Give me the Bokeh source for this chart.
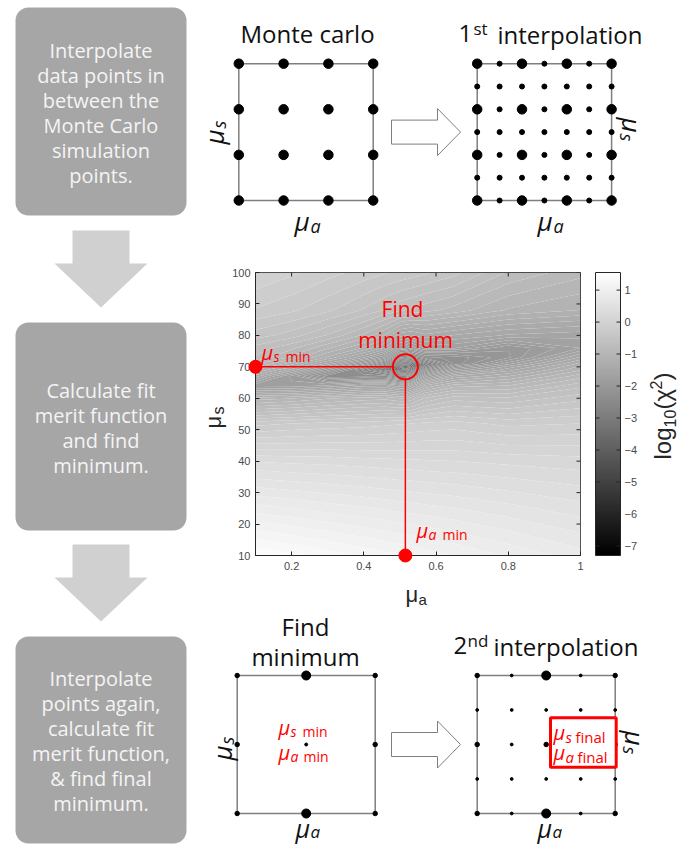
import numpy as np
from bokeh.plotting import figure
from bokeh.layouts import row, column
from bokeh.models import Range1d, LinearColorMapper, FixedTicker, BoxAnnotation
from bokeh.core.properties import value
from bokeh.embed import file_html
from bokeh.resources import INLINE

# ---------------- data ----------------
flow_steps = [
    ["Interpolate", "data points in", "between the", "Monte Carlo", "simulation", "points."],
    ["Calculate fit", "merit function", "and find", "minimum."],
    ["Interpolate", "points again,", "calculate fit", "merit function,", "& find final", "minimum."],
]

mc_nodes = [0, 1, 2, 3]                       # Monte Carlo simulation nodes (grid units)
interp1_nodes = [0, 0.5, 1, 1.5, 2, 2.5, 3]   # after 1st interpolation
zoom_nodes = [0, 1, 2]                        # neighbourhood of the minimum
interp2_nodes = [0, 0.5, 1, 1.5, 2]           # after 2nd interpolation
zoom_mc_points = [(1, 0), (1, 2)]             # Monte Carlo nodes inside the zoomed window

# merit function map log10(chi^2)
mua = [0.1, 0.2, 0.3, 0.4, 0.46, 0.5, 0.515, 0.53, 0.57, 0.65, 0.8, 1.0]
mus = [10, 25, 40, 52, 60, 64, 67, 69, 70, 71, 73, 76, 80, 88, 100]
log_chi2 = [
    [1.45, 1.38, 1.31, 1.23, 1.19, 1.16, 1.15, 1.14, 1.11, 1.05, 0.94, 0.80],
    [0.90, 0.86, 0.81, 0.77, 0.74, 0.72, 0.72, 0.71, 0.69, 0.66, 0.59, 0.50],
    [0.35, 0.33, 0.32, 0.30, 0.29, 0.28, 0.28, 0.28, 0.27, 0.26, 0.23, 0.20],
    [-0.28, -0.24, -0.21, -0.19, -0.17, -0.15, -0.15, -0.14, -0.12, -0.10, -0.17, -0.14],
    [-1.09, -1.04, -0.95, -0.89, -0.87, -0.93, -0.93, -0.90, -0.72, -0.58, -0.62, -0.47],
    [-1.80, -1.80, -1.70, -1.56, -1.55, -1.70, -1.70, -1.57, -1.22, -0.98, -0.93, -0.67],
    [-1.39, -1.86, -2.40, -2.36, -2.39, -2.59, -2.60, -2.47, -1.86, -1.42, -1.23, -0.88],
    [-1.12, -1.48, -1.99, -2.57, -2.95, -3.35, -3.35, -3.23, -2.41, -1.83, -1.47, -1.04],
    [-1.03, -1.31, -1.78, -2.34, -2.81, -3.56, -6.80, -3.55, -2.70, -2.06, -1.59, -1.11],
    [-0.91, -1.19, -1.56, -2.08, -2.52, -3.24, -3.30, -3.36, -2.90, -2.31, -1.76, -1.20],
    [-0.75, -0.96, -1.25, -1.62, -1.95, -2.51, -2.55, -2.64, -2.36, -2.30, -2.05, -1.41],
    [-0.68, -0.81, -1.02, -1.25, -1.45, -1.79, -1.82, -1.91, -1.71, -1.72, -2.02, -1.73],
    [-0.49, -0.59, -0.75, -0.96, -1.15, -1.40, -1.42, -1.45, -1.36, -1.44, -1.55, -1.60],
    [-0.25, -0.32, -0.42, -0.55, -0.65, -0.72, -0.74, -0.76, -0.80, -0.88, -1.05, -1.14],
    [-0.05, -0.12, -0.20, -0.28, -0.33, -0.36, -0.37, -0.38, -0.42, -0.50, -0.75, -0.90],
]
mua_min, mus_min = 0.515, 70
mua_ticks = [0.2, 0.4, 0.6, 0.8, 1.0]
mus_ticks = [10, 20, 30, 40, 50, 60, 70, 80, 90, 100]
cbar_ticks = [-7, -6, -5, -4, -3, -2, -1, 0, 1]
cbar_low, cbar_high = -7.3, 1.55

# ---------------- style ----------------
FONT = "Open Sans"
AXFONT = "Liberation Sans"
BLACK = "#111111"
RED = "#ff0000"
GRIDC = "#7f7f7f"
AXC = "#262626"
TICKC = "#4a4a4a"
RX0, RX1 = 195.0, 678.0   # right column on the page
ROW1, ROW2 = 240, 608     # page y where the right-column panels meet
UP = np.pi / 2


def gray(t):
    v = int(round(255 * min(max(t, 0.0), 1.0)))
    return "#%02x%02x%02x" % (v, v, v)


def put(fig, tx, ty, text, px, py, size, color, style="normal", align="left",
        angle=0.0, font=FONT):
    """py is the visual centre line of the text (page pixels)."""
    r = fig.text(x=[tx(px)], y=[ty(py)], text=[text], text_font=value(font),
                 text_font_size=f"{size}px", text_font_style=style, text_color=color,
                 text_align=align, text_baseline="middle", angle=angle)
    r.level = "overlay"
    return r


def putv(fig, tx, ty, text, cx, y0, size, color, angle, style="normal", font=FONT):
    """rotated text: cx is the centre line, y0 where reading starts."""
    return put(fig, tx, ty, text, cx, y0, size, color, style=style, angle=angle, font=font)


def blank(w, h, xr, yr):
    return figure(width=w, height=h, x_range=Range1d(*xr), y_range=Range1d(*yr),
                  x_axis_type=None, y_axis_type=None, toolbar_location=None,
                  output_backend="svg", min_border=0, outline_line_color=None)


def hollow_arrow(fig, tx, ty, x0, yc):
    xs = [x0, x0 + 46, x0 + 46, x0 + 69, x0 + 46, x0 + 46, x0]
    ys = [yc - 12, yc - 12, yc - 23.5, yc, yc + 23.5, yc + 12, yc + 12]
    fig.patch([tx(x) for x in xs], [ty(y) for y in ys], fill_color="white",
              line_color=GRIDC, line_width=1)


def square(fig, nodes, off=0.0):
    lo, hi = min(nodes) + off, max(nodes) + off
    ylo, yhi = min(nodes), max(nodes)
    fig.line([lo, hi, hi, lo, lo], [ylo, ylo, yhi, yhi, ylo], line_color=GRIDC, line_width=1.5)


# ---------------- left flow column ----------------
left = blank(195, 846, (0, 195), (-846, 0))
boxes = [(7, 215), (322, 530), (636, 843)]
for (bt, bb), lines in zip(boxes, flow_steps):
    left.add_layout(BoxAnnotation(left=15, right=186, top=-bt, bottom=-bb, border_radius=13,
                                  fill_color="#a6a6a6", fill_alpha=1.0, line_color=None,
                                  level="underlay"))
    c = (bt + bb) / 2 + 1
    n = len(lines)
    ys = [-(c + (i - (n - 1) / 2) * 25) for i in range(n)]
    left.text(x=[100.5] * n, y=ys, text=lines, text_font=value(FONT), text_font_size="20px",
              text_color="#f4f4f4", text_align="center", text_baseline="middle")
for yt in (230, 544):
    xs = [72, 129, 129, 147, 100.5, 54, 72]
    ys = [yt, yt, yt + 33, yt + 33, yt + 77, yt + 33, yt + 33]
    left.patch(xs, [-y for y in ys], fill_color="#d0d0d0", line_color=None)

# ---------------- top row: Monte Carlo grid -> 1st interpolation ----------------
SX, SY, X0, Y0 = 44.8, 45.6, 238.3, 200.0
tx = lambda px: (px - X0) / SX
ty = lambda py: (Y0 - py) / SY
top = blank(483, ROW1, (tx(RX0), tx(RX1)), (ty(ROW1), ty(0)))
OFF1 = tx(476.7)

square(top, mc_nodes)
gx, gy = np.meshgrid(mc_nodes, mc_nodes)
top.scatter(gx.ravel(), gy.ravel(), size=9.5, color="black")

square(top, interp1_nodes, OFF1)
ix, iy = np.meshgrid(interp1_nodes, interp1_nodes)
ix, iy = ix.ravel(), iy.ravel()
big = np.array([(a in mc_nodes) and (b in mc_nodes) for a, b in zip(ix, iy)])
top.scatter(ix[big] + OFF1, iy[big], size=9.5, color="black")
top.scatter(ix[~big] + OFF1, iy[~big], size=5, color="black")

hollow_arrow(top, tx, ty, 391, Y0 - 1.5 * SY)

put(top, tx, ty, "Monte carlo", 307, 33, 24, BLACK, align="center")
put(top, tx, ty, "1", 458, 33, 24, BLACK)
put(top, tx, ty, "st", 473, 28, 17, BLACK)
put(top, tx, ty, "interpolation", 497, 34, 24, BLACK)

for xm in (294, 537):
    put(top, tx, ty, "μ", xm, 220, 26, BLACK, style="italic")
    put(top, tx, ty, "a", xm + 16, 225, 18, BLACK, style="italic")
putv(top, tx, ty, "μ", 213, 144, 26, BLACK, UP, style="italic")
putv(top, tx, ty, "s", 218, 128, 18, BLACK, UP, style="italic")
putv(top, tx, ty, "μ", 631, 117, 26, BLACK, -UP, style="italic")
putv(top, tx, ty, "s", 626, 133, 18, BLACK, -UP, style="italic")

# ---------------- middle: merit function map ----------------
FX0, HW, HY0, HH = 255.0, 325.0, 272.0, 283.0
x_lo, x_hi, y_lo, y_hi = mua[0], mua[-1], mus[0], mus[-1]
hx = lambda px: x_lo + (px - FX0) * (x_hi - x_lo) / HW
hy = lambda py: y_hi - (py - HY0) * (y_hi - y_lo) / HH

heat = figure(width=483, height=ROW2 - ROW1, x_range=Range1d(x_lo, x_hi),
              y_range=Range1d(y_lo, y_hi), toolbar_location=None, output_backend="svg",
              min_border_left=int(FX0 - RX0), min_border_right=int(RX1 - FX0 - HW),
              min_border_top=int(HY0 - ROW1), min_border_bottom=int(ROW2 - HY0 - HH))
heat.grid.visible = False
heat.outline_line_color = AXC

levels = np.linspace(cbar_low, cbar_high, 90)
mids = (levels[:-1] + levels[1:]) / 2
fills = [gray((m - cbar_low) / (cbar_high - cbar_low)) for m in mids]
cr = heat.contour(x=np.array(mua), y=np.array(mus), z=np.array(log_chi2), levels=levels,
                  fill_color=fills, line_color=None)
fg = cr.fill_renderer.glyph
fg.line_color = fg.fill_color
fg.line_width = 1.0

for ax in (heat.xaxis[0], heat.yaxis[0]):
    ax.axis_line_color = AXC
    ax.major_tick_line_color = AXC
    ax.major_tick_in = 4
    ax.major_tick_out = 0
    ax.minor_tick_line_color = None
    ax.major_label_text_font = AXFONT
    ax.major_label_text_font_size = "11px"
    ax.major_label_text_color = TICKC
heat.xaxis.ticker = FixedTicker(ticks=mua_ticks)
heat.xaxis.major_label_overrides = {1.0: "1"}
heat.xaxis.major_label_standoff = 6
heat.yaxis.ticker = FixedTicker(ticks=mus_ticks)
heat.yaxis.major_label_standoff = 5

tick_dx = 4 * (x_hi - x_lo) / HW
tick_dy = 4 * (y_hi - y_lo) / HH
heat.segment(x0=mua_ticks, y0=[y_hi] * len(mua_ticks), x1=mua_ticks,
             y1=[y_hi - tick_dy] * len(mua_ticks), line_color=AXC)
heat.segment(x0=[x_hi] * len(mus_ticks), y0=mus_ticks, x1=[x_hi - tick_dx] * len(mus_ticks),
             y1=mus_ticks, line_color=AXC)

# colour bar on its own value range
heat.extra_y_ranges = {"cb": Range1d(cbar_low, cbar_high)}
mapper = LinearColorMapper(palette=[gray(i / 255) for i in range(256)], low=cbar_low, high=cbar_high)
grad = np.linspace(cbar_low, cbar_high, 256).reshape(256, 1)
cb_l, cb_r = hx(595), hx(620)
extras = [
    heat.image(image=[grad], x=cb_l, y=cbar_low, dw=cb_r - cb_l, dh=cbar_high - cbar_low,
               color_mapper=mapper, y_range_name="cb"),
    heat.quad(left=[cb_l], right=[cb_r], bottom=[cbar_low], top=[cbar_high], fill_color=None,
              line_color=AXC, line_width=1, y_range_name="cb"),
    heat.segment(x0=[cb_r] * len(cbar_ticks), y0=cbar_ticks, x1=[hx(616)] * len(cbar_ticks),
                 y1=cbar_ticks, line_color=AXC, y_range_name="cb"),
    heat.segment(x0=[cb_l] * len(cbar_ticks), y0=cbar_ticks, x1=[hx(599)] * len(cbar_ticks),
                 y1=cbar_ticks, line_color=AXC, y_range_name="cb"),
    heat.text(x=[hx(624)] * len(cbar_ticks), y=cbar_ticks,
              text=[("−%d" % abs(t) if t < 0 else str(t)) for t in cbar_ticks],
              text_font=value(AXFONT), text_font_size="11px", text_color=TICKC,
              text_align="left", text_baseline="middle", y_range_name="cb"),
]
for r in extras:
    r.level = "overlay"

# colour bar title log10(chi^2), reading upwards
putv(heat, hx, hy, "log", 662, 459, 24, AXC, UP, font=AXFONT)
putv(heat, hx, hy, "10", 669, 427, 16, AXC, UP, font=AXFONT)
putv(heat, hx, hy, "(χ", 662, 409, 24, AXC, UP, font=AXFONT)
putv(heat, hx, hy, "2", 655, 389, 16, AXC, UP, font=AXFONT)
putv(heat, hx, hy, ")", 662, 380, 24, AXC, UP, font=AXFONT)

# axis labels
put(heat, hx, hy, "μ", 405, 594, 22, AXC, font=AXFONT)
put(heat, hx, hy, "a", 418, 599, 15, AXC, font=AXFONT)
putv(heat, hx, hy, "μ", 213, 428, 22, AXC, UP, font=AXFONT)
putv(heat, hx, hy, "s", 218, 414, 16, AXC, UP, font=AXFONT)

# minimum annotations
rx = 12.5 * (x_hi - x_lo) / HW
ry = 12.5 * (y_hi - y_lo) / HH
heat.line([x_lo, mua_min - rx], [mus_min, mus_min], line_color=RED, line_width=1.5)
heat.line([mua_min, mua_min], [mus_min - ry, y_lo], line_color=RED, line_width=1.5)
heat.scatter([mua_min], [mus_min], marker="circle", size=25, fill_color=None,
             line_color=RED, line_width=2)
dots = heat.scatter([x_lo, mua_min], [mus_min, y_lo], size=13, color=RED)
dots.level = "overlay"

put(heat, hx, hy, "Find", 402, 308, 21, RED, align="center")
put(heat, hx, hy, "minimum", 405, 339, 21, RED, align="center")
put(heat, hx, hy, "μ", 261, 352, 20, RED, style="italic")
put(heat, hx, hy, "s", 273, 356, 14, RED, style="italic")
put(heat, hx, hy, "min", 285, 356, 14, RED)
put(heat, hx, hy, "μ", 416, 530, 20, RED, style="italic")
put(heat, hx, hy, "a", 428, 534, 14, RED, style="italic")
put(heat, hx, hy, "min", 442, 534, 14, RED)

# ---------------- bottom row: zoom on minimum -> 2nd interpolation ----------------
BS, BX0, BY0 = 69.0, 236.7, 813.0
bx = lambda px: (px - BX0) / BS
by = lambda py: (BY0 - py) / BS
bottom = blank(483, 846 - ROW2, (bx(RX0), bx(RX1)), (by(846), by(ROW2)))
OFF2 = bx(476.7)

square(bottom, zoom_nodes)
zx, zy = np.meshgrid(zoom_nodes, zoom_nodes)
zx, zy = zx.ravel(), zy.ravel()
zs = [9 if (a, b) in zoom_mc_points else (3 if (a, b) == (1, 1) else 4.5) for a, b in zip(zx, zy)]
bottom.scatter(zx, zy, size=zs, color="black")

square(bottom, interp2_nodes, OFF2)
qx, qy = np.meshgrid(interp2_nodes, interp2_nodes)
qx, qy = qx.ravel(), qy.ravel()
qs = [9 if (a, b) in zoom_mc_points else (4.5 if (a in zoom_nodes and b in zoom_nodes) else 2.8)
      for a, b in zip(qx, qy)]
bottom.scatter(qx + OFF2, qy, size=qs, color="black")

bottom.quad(left=[bx(550)], right=[bx(615.7)], top=[by(717.3)], bottom=[by(766.7)],
            fill_color="white", line_color=RED, line_width=3)

hollow_arrow(bottom, bx, by, 391, BY0 - BS)

put(bottom, bx, by, "Find", 305, 626, 24, BLACK, align="center")
put(bottom, bx, by, "minimum", 305, 656, 24, BLACK, align="center")
put(bottom, bx, by, "2", 453, 645, 24, BLACK)
put(bottom, bx, by, "nd", 467, 640, 17, BLACK)
put(bottom, bx, by, "interpolation", 493, 646, 24, BLACK)

for xm in (295, 537):
    put(bottom, bx, by, "μ", xm, 827, 25, BLACK, style="italic")
    put(bottom, bx, by, "a", xm + 15, 831, 17, BLACK, style="italic")
putv(bottom, bx, by, "μ", 221, 760, 26, BLACK, UP, style="italic")
putv(bottom, bx, by, "s", 226, 744, 18, BLACK, UP, style="italic")
putv(bottom, bx, by, "μ", 634, 730, 26, BLACK, -UP, style="italic")
putv(bottom, bx, by, "s", 629, 746, 18, BLACK, -UP, style="italic")

put(bottom, bx, by, "μ", 278, 727, 20, RED, style="italic")
put(bottom, bx, by, "s", 290, 731, 14, RED, style="italic")
put(bottom, bx, by, "min", 302, 731, 14, RED)
put(bottom, bx, by, "μ", 278, 752, 20, RED, style="italic")
put(bottom, bx, by, "a", 290, 756, 14, RED, style="italic")
put(bottom, bx, by, "min", 303, 756, 14, RED)
put(bottom, bx, by, "μ", 553, 732, 20, RED, style="italic")
put(bottom, bx, by, "s", 565, 736, 15, RED, style="italic")
put(bottom, bx, by, "final", 575, 736, 15, RED)
put(bottom, bx, by, "μ", 553, 752, 20, RED, style="italic")
put(bottom, bx, by, "a", 565, 756, 15, RED, style="italic")
put(bottom, bx, by, "final", 577, 756, 15, RED)

layout = row(left, column(top, row(heat), bottom))
open("out.html", "w").write(file_html(layout, INLINE))
